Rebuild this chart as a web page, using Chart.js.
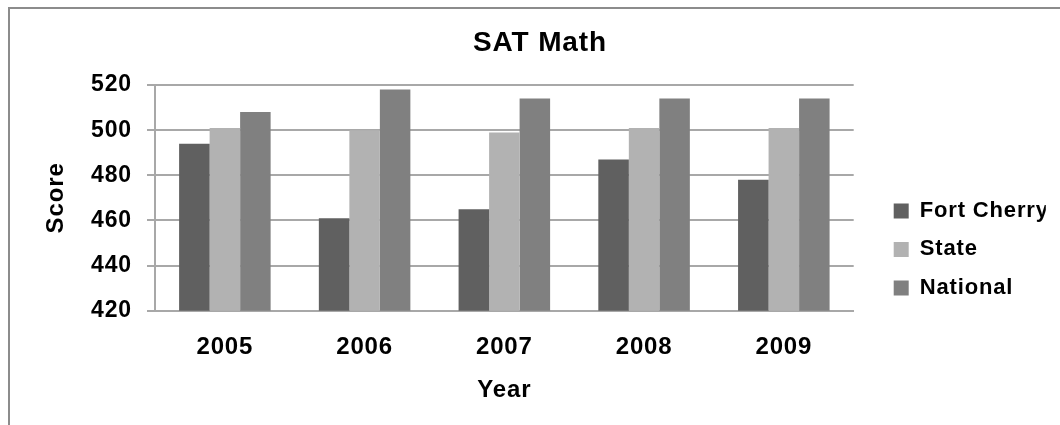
<!DOCTYPE html>
<html>
<head>
<meta charset="utf-8">
<title>SAT Math</title>
<script src="https://cdn.jsdelivr.net/npm/chart.js@4/dist/chart.umd.min.js"></script>
<style>
    html, body { margin: 0; padding: 0; background: #ffffff; overflow: hidden; }
    #frame {
        position: absolute; left: 8px; top: 7px; width: 1100px; height: 500px;
        border-left: 2px solid #8c8c8c; border-top: 2px solid #8c8c8c;
    }
    #wrap { position: absolute; left: 0; top: 0; width: 1060px; height: 425px; }
</style>
</head>
<body>
<div id="frame"></div>
<div id="wrap"><canvas id="sat-chart"></canvas></div>
<script>
"use strict";

var years = ["2005", "2006", "2007", "2008", "2009"];
var fortCherry = [494, 461, 465, 487, 478];
var stateAvg = [501, 500, 499, 501, 501];
var nationalAvg = [508, 518, 514, 514, 514];
var scoreTicks = [420, 440, 460, 480, 500, 520];

var FONT = "'Liberation Sans', Arial, sans-serif";
var GRID = "#a8a8a8";

// the original text is drawn a little wide, so space the letters out
var letterSpacing = {
    id: "letterSpacing",
    beforeLayout: function (chart) { chart.ctx.letterSpacing = "0.85px"; },
    beforeDraw: function (chart) { chart.ctx.letterSpacing = "0.85px"; },
};

/* SAT Math column chart */
var myCanvas = document.getElementById("sat-chart");
var myChart = new Chart(myCanvas, {
    type: "bar",
    plugins: [letterSpacing],
    data: {
        labels: years,
        datasets: [
            { label: "Fort Cherry", data: fortCherry, backgroundColor: "#606060", borderWidth: 0 },
            { label: "State", data: stateAvg, backgroundColor: "#b2b2b2", borderWidth: 0 },
            { label: "National", data: nationalAvg, backgroundColor: "#808080", borderWidth: 0 },
        ],
    },
    options: {
        responsive: true,
        maintainAspectRatio: false,
        animation: false,
        layout: { padding: { left: 34.2, right: 14.2, top: 0, bottom: 0 } },
        datasets: { bar: { categoryPercentage: 0.655, barPercentage: 1 } },
        plugins: {
            title: {
                display: true,
                text: "SAT Math",
                color: "#000000",
                font: { family: FONT, size: 28, weight: "bold" },
                padding: { top: 26, bottom: 25.4 },
            },
            legend: {
                position: "right",
                align: "start",
                title: {
                    // blank title, only pushes the items down
                    display: true,
                    text: " ",
                    font: { size: 12 },
                    padding: { top: 169, bottom: 0 },
                },
                labels: {
                    color: "#000000",
                    font: { family: FONT, size: 22, weight: "bold" },
                    boxWidth: 15,
                    boxHeight: 15,
                    padding: 16.5,
                },
            },
            tooltip: { enabled: false },
        },
        scales: {
            x: {
                grid: { display: false, drawTicks: true, tickLength: 22 },
                border: { display: true, color: GRID, width: 2 },
                ticks: {
                    padding: 0,
                    color: "#000000",
                    font: { family: FONT, size: 24, weight: "bold" },
                },
                title: {
                    display: true,
                    text: "Year",
                    color: "#000000",
                    font: { family: FONT, size: 24, weight: "bold" },
                    padding: { top: 14, bottom: 20.6 },
                },
            },
            y: {
                min: 420,
                max: 520,
                afterBuildTicks: function (scale) {
                    scale.ticks = scoreTicks.map(function (v) { return { value: v }; });
                },
                afterFit: function (scale) { scale.width = 120.8; },
                grid: { color: GRID, lineWidth: 2, tickLength: 8 },
                border: { display: true, color: GRID, width: 2 },
                ticks: {
                    padding: 15,
                    color: "#000000",
                    font: { family: FONT, size: 23, weight: "bold" },
                },
                title: {
                    display: true,
                    text: "Score",
                    color: "#000000",
                    font: { family: FONT, size: 24, weight: "bold" },
                    padding: { top: 7.4, bottom: 0 },
                },
            },
            // empty spacer between plot and legend
            gap: {
                type: "linear",
                position: "right",
                display: true,
                grid: { display: false },
                border: { display: false },
                ticks: { display: false },
                afterFit: function (scale) { scale.width = 23.5; },
            },
        },
    },
});
/* SAT Math column chart closed */
</script>
</body>
</html>
